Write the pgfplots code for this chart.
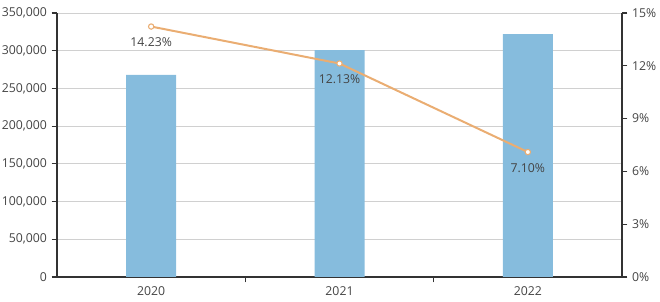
\documentclass[border=0pt]{standalone}
\usepackage{pgfplots}
\pgfplotsset{compat=1.18}
\usepackage{fontspec}
\setmainfont{Open Sans}
\usetikzlibrary{calc}
\definecolor{barblue}{HTML}{86BCDD}
\definecolor{lineor}{HTML}{EAAD72}
\definecolor{axcol}{HTML}{333333}
\definecolor{txt}{HTML}{444444}
\definecolor{gridc}{HTML}{D0D0D0}
\begin{document}
\begin{tikzpicture}
\begin{axis}[name=ax, scale only axis, width=423.75pt, height=198pt,
  xmin=-0.5, xmax=2.5, ymin=0, ymax=350000,
  axis x line*=bottom, axis y line*=left,
  axis line style={axcol, line width=0.8pt},
  xtick={0,1,2}, xticklabels={2020,2021,2022},
  minor xtick={0.5,1.5},
  major x tick style={draw=none},
  minor x tick style={axcol, line width=0.8pt},
  minor tick length=4pt,
  major tick length=4pt,
  y tick style={axcol, line width=0.8pt},
  tick align=outside,
  scaled y ticks=false,
  ytick={0,50000,100000,150000,200000,250000,300000,350000},
  yticklabels={0,{50,000},{100,000},{150,000},{200,000},{250,000},{300,000},{350,000}},
  ymajorgrids, grid style={gridc, line width=0.6pt},
  tick label style={font=\fontsize{9.2}{11}\selectfont, text=txt},
]
\addplot[ybar, bar width=37.5pt, fill=barblue, draw=none] coordinates {(0,267800) (1,300900) (2,322000)};
\end{axis}
\begin{axis}[scale only axis, width=423.75pt, height=198pt,
  xmin=-0.5, xmax=2.5, ymin=0, ymax=15,
  axis y line*=right, axis x line=none,
  axis line style={axcol, line width=0.8pt},
  y tick style={axcol, line width=0.8pt},
  major tick length=4pt,
  tick align=outside,
  scaled y ticks=false,
  ytick={0,3,6,9,12,15},
  yticklabels={0\%,3\%,6\%,9\%,12\%,15\%},
  tick label style={font=\fontsize{9.2}{11}\selectfont, text=txt},
]
\addplot[lineor, line width=1.5pt, mark=*, mark size=2pt,
  mark options={fill=white, draw=lineor, line width=0.8pt},
  nodes near coords, point meta=explicit symbolic,
  nodes near coords style={anchor=center, yshift=-12pt, text=txt, font=\fontsize{9.2}{11}\selectfont}]
  coordinates {(0,14.23) [14.23\%] (1,12.13) [12.13\%] (2,7.10) [7.10\%]};
\end{axis}
\pgfresetboundingbox
\path ($(ax.south west)+(-42.75pt,-18.75pt)$) rectangle ($(ax.north east)+(28.5pt,9.75pt)$);
\end{tikzpicture}
\end{document}
